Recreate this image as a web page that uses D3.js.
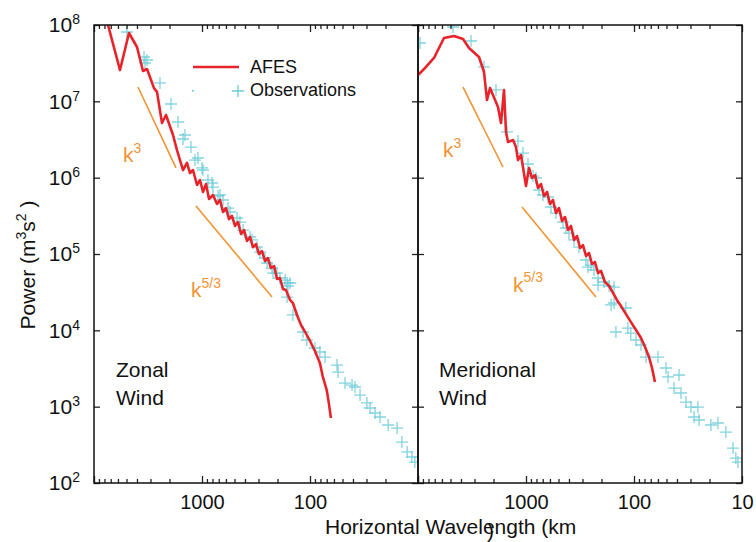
<!DOCTYPE html>
<html>
<head>
<meta charset="utf-8">
<script src="https://cdn.jsdelivr.net/npm/d3@7/dist/d3.min.js"></script>
<style>
body { margin: 0; background: #fff; }
svg { font-family: "Liberation Sans", Arial, sans-serif; }
</style>
</head>
<body>
<svg width="756" height="542"></svg>
<script>
// wavelength (km), power
const zonalAFES = [[8100,1.6e8],[5744,2.57e7],[4742,7.86e7],[3999,5.15e7],[3518,2.50e7],[3230,2.65e7],[2783,1.49e7],[2610,1.33e7],[2347,5.20e6],[2154,6.62e6],[1856,3.62e6],[1704,2.30e6],[1499,1.26e6],[1377,1.56e6],[1292,1.15e6],[1212,1.26e6],[1112,8.01e5],[1043,9.32e5],[979,6.49e5],[918,8.26e5],[861,5.25e5],[791,5.93e5],[726,4.52e5],[681,5.10e5],[639,3.55e5],[600,4.00e5],[562,2.87e5],[528,3.15e5],[495,2.33e5],[464,2.62e5],[435,1.83e5],[408,2.06e5],[383,1.48e5],[359,1.67e5],[337,1.23e5],[316,1.35e5],[297,1.00e5],[278,1.09e5],[261,8.09e4],[245,8.86e4],[230,6.55e4],[215,6.96e4],[202,4.70e4],[190,4.85e4],[178,3.48e4],[167,3.37e4],[153,2.50e4],[144,2.28e4],[132,1.59e4],[121,1.17e4],[111,9.51e3],[100,7.25e3],[90,5.36e3],[81,3.73e3],[76,2.45e3],[70,1.65e3],[67,1.12e3],[64,7.10e2]];

const zonalObs = [[4950,8.10e7],[3443,3.81e7],[3230,3.48e7],[3372,3.18e7],[2448,1.74e7],[1936,9.23e6],[1668,5.36e6],[1437,3.62e6],[1499,3.21e6],[1265,2.52e6],[1161,1.70e6],[1089,1.81e6],[1000,1.34e6],[979,1.26e6],[880,9.32e5],[808,8.51e5],[791,7.54e5],[711,5.75e5],[681,5.93e5],[639,5.10e5],[574,4.00e5],[550,3.55e5],[474,2.96e5],[445,2.62e5],[417,2.06e5],[359,1.67e5],[344,1.53e5],[310,1.23e5],[290,1.06e5],[261,8.86e4],[250,7.62e4],[225,6.55e4],[220,5.63e4],[202,5.63e4],[190,4.85e4],[170,4.56e4],[163,4.17e4],[160,3.81e4],[153,4.17e4],[163,2.73e4],[144,1.59e4],[116,9.51e3],[107,7.47e3],[90,5.87e3],[81,5.20e3],[72.6,4.47e3],[56.2,3.51e3],[55.0,2.84e3],[47.4,2.04e3],[40.8,1.92e3],[38.3,1.81e3],[34.4,1.42e3],[29.7,1.12e3],[27.8,9.60e2],[25.0,8.26e2],[22.5,7.32e2],[18.9,5.75e2],[15.6,5.25e2],[14.1,3.44e2],[12.6,2.55e2],[11.4,2.19e2],[10.7,1.88e2]];

const meridAFES = [[10000,2.21e7],[8431,2.82e7],[7111,3.70e7],[5744,6.75e7],[4642,7.18e7],[3831,6.55e7],[3372,5.00e7],[2724,3.81e7],[2448,2.42e7],[2297,1.04e7],[2154,1.49e7],[2021,1.21e7],[1817,8.43e6],[1704,5.20e6],[1598,1.41e7],[1532,3.97e6],[1468,2.93e6],[1319,3.11e6],[1238,2.52e6],[1186,1.70e6],[1112,1.98e6],[1000,7.78e5],[938,1.34e6],[880,9.90e5],[825,1.08e6],[774,7.32e5],[726,8.26e5],[681,5.75e5],[639,6.49e5],[600,4.52e5],[562,5.10e5],[528,3.44e5],[495,4.00e5],[464,2.70e5],[435,3.05e5],[408,2.06e5],[383,2.33e5],[359,1.53e5],[337,1.72e5],[316,1.20e5],[297,1.31e5],[278,9.41e4],[261,1.03e5],[245,7.39e4],[230,7.86e4],[215,5.63e4],[202,5.99e4],[186,4.30e4],[170,3.81e4],[156,3.08e4],[144,2.50e4],[132,2.08e4],[119,1.64e4],[107,1.29e4],[95.8,1.01e4],[86.1,7.93e3],[79.1,6.05e3],[72.6,4.47e3],[68.1,3.21e3],[64,2.10e3]];

const meridObs = [[9583,5.81e7],[4742,9.41e7],[3230,6.17e7],[2448,2.82e7],[1896,1.41e7],[1499,3.97e6],[1186,3.02e6],[1066,2.10e6],[958,1.51e6],[861,1.05e6],[808,9.90e5],[758,6.89e5],[696,5.93e5],[626,5.58e5],[587,4.13e5],[528,3.44e5],[454,2.62e5],[426,2.19e5],[400,1.88e5],[359,1.53e5],[323,1.23e5],[278,8.34e4],[267,6.75e4],[250,7.17e4],[235,6.17e4],[215,4.85e4],[215,3.92e4],[190,4.30e4],[170,3.81e4],[153,3.69e4],[163,2.15e4],[153,2.28e4],[147,9.51e3],[119,1.96e4],[114,1.07e4],[107,9.22e3],[95.8,7.47e3],[86.1,6.42e3],[77.4,4.47e3],[60.0,4.47e3],[50.5,3.21e3],[48.4,2.45e3],[38.3,2.60e3],[42.6,1.75e3],[36.7,1.51e3],[33.0,1.15e3],[29.7,9.89e2],[25.6,9.89e2],[27.8,7.32e2],[25.0,6.69e2],[19.4,5.75e2],[16.7,6.11e2],[14.1,4.65e2],[12.1,2.87e2],[11.4,2.12e2],[10.9,1.88e2]];

// reference slopes
const zonalK3 = [[3916,1.54e7],[1741,1.34e6]];
const zonalK53 = [[1137,4.26e5],[225,2.74e4]];
const meridK3 = [[3830,1.54e7],[1633,1.38e6]];
const meridK53 = [[1089,4.13e5],[225,2.74e4]];

const xMajor = [10000, 1000, 100, 10];
const xMinor = [9000,8000,7000,6000,5000,4000,3000,2000,900,800,700,600,500,400,300,200,90,80,70,60,50,40,30,20];
const yTicks = [1e2, 1e3, 1e4, 1e5, 1e6, 1e7, 1e8];
const yExp = ["2", "3", "4", "5", "6", "7", "8"];

const red = "#e8242b", cyan = "#6ccbd8", orange = "#f29433";
const plotTop = 25, plotBottom = 483;

const svg = d3.select("svg");
const y = d3.scaleLog().domain([1e2, 1e8]).range([plotBottom, plotTop]);

const panels = [
    { id: "z", x0: 94, x1: 418, afes: zonalAFES, obs: zonalObs, k3: zonalK3, k53: zonalK53,
      xlabels: [1000, 100], name: ["Zonal", "Wind"], nx: 116,
      k3lab: [123, 162, 153], k53lab: [191, 297, 288] },
    { id: "m", x0: 418, x1: 742, afes: meridAFES, obs: meridObs, k3: meridK3, k53: meridK53,
      xlabels: [1000, 100, 10], name: ["Meridional", "Wind"], nx: 439,
      k3lab: [443, 157, 148], k53lab: [513, 292, 282] },
];

const defs = svg.append("defs");

panels.forEach((p) => {
    const x = d3.scaleLog().domain([10000, 10]).range([p.x0, p.x1]);

    defs.append("clipPath").attr("id", "clip-" + p.id)
        .append("rect").attr("x", p.x0).attr("y", plotTop).attr("width", p.x1 - p.x0).attr("height", plotBottom - plotTop);

    const plot = svg.append("g").attr("clip-path", `url(#clip-${p.id})`);

    // slope guides
    [p.k3, p.k53].forEach((seg) => {
        plot.append("path")
            .attr("d", d3.line().x((d) => x(d[0])).y((d) => y(d[1]))(seg))
            .attr("stroke", orange).attr("stroke-width", 1.6).attr("fill", "none");
    });

    // observations
    plot.append("g").selectAll("path").data(p.obs).enter().append("path")
        .attr("d", (d) => `M${x(d[0]) - 6},${y(d[1])}h12M${x(d[0])},${y(d[1]) - 6}v12`)
        .attr("stroke", cyan).attr("stroke-width", 1.3).attr("opacity", 0.85).attr("fill", "none");

    // model
    plot.append("path")
        .attr("d", d3.line().x((d) => x(d[0])).y((d) => y(d[1]))(p.afes))
        .attr("stroke", red).attr("stroke-width", 2.6).attr("fill", "none").attr("stroke-linejoin", "round");

    // x axes
    const strip = (g) => g.select(".domain").remove();
    svg.append("g").attr("transform", `translate(0,${plotBottom})`)
        .call(d3.axisBottom(x).tickValues(xMinor).tickSize(-4).tickFormat("")).call(strip);
    svg.append("g").attr("transform", `translate(0,${plotTop})`)
        .call(d3.axisTop(x).tickValues(xMinor).tickSize(-4).tickFormat("")).call(strip);
    svg.append("g").attr("transform", `translate(0,${plotTop})`)
        .call(d3.axisTop(x).tickValues(xMajor).tickSize(-7).tickFormat("")).call(strip);
    const xb = svg.append("g").attr("transform", `translate(0,${plotBottom})`)
        .call(d3.axisBottom(x).tickValues(xMajor).tickSize(-7).tickPadding(12)
            .tickFormat((d) => (p.xlabels.includes(d) ? String(d) : "")))
        .call(strip);
    xb.selectAll("text").attr("font-size", 20).attr("fill", "#111").attr("font-family", null);

    // y ticks on both sides
    svg.append("g").attr("transform", `translate(${p.x0},0)`)
        .call(d3.axisLeft(y).tickValues(yTicks).tickSize(-6).tickFormat("")).call(strip);
    svg.append("g").attr("transform", `translate(${p.x1},0)`)
        .call(d3.axisRight(y).tickValues(yTicks).tickSize(-6).tickFormat("")).call(strip);

    // frame
    svg.append("rect").attr("x", p.x0).attr("y", plotTop).attr("width", p.x1 - p.x0).attr("height", plotBottom - plotTop)
        .attr("fill", "none").attr("stroke", "#111").attr("stroke-width", 1.5);

    // panel name
    p.name.forEach((t, i) => {
        svg.append("text").attr("x", p.nx).attr("y", 377 + i * 28).attr("font-size", 21).attr("fill", "#111").text(t);
    });

    // slope labels
    [[p.k3lab, "3"], [p.k53lab, "5/3"]].forEach(([pos, sup]) => {
        const t = svg.append("text").attr("x", pos[0]).attr("y", pos[1]).attr("fill", orange).attr("font-size", 21);
        t.append("tspan").text("k");
        t.append("tspan").attr("dy", pos[2] - pos[1]).attr("font-size", 14).text(sup);
    });
});

svg.selectAll(".tick line").attr("stroke", "#222").attr("stroke-width", 1.3);

// y tick labels
const yl = svg.append("g").attr("transform", "translate(94,0)")
    .call(d3.axisLeft(y).tickValues(yTicks).tickSize(0).tickPadding(14).tickFormat(""));
yl.select(".domain").remove();
yl.selectAll("text").each(function (d, i) {
    const t = d3.select(this).attr("font-size", 21).attr("fill", "#111").attr("font-family", null);
    t.append("tspan").text("10");
    t.append("tspan").attr("dy", -8).attr("font-size", 14).text(yExp[i]);
});

// axis titles
const yt = svg.append("text").attr("transform", "translate(35,265) rotate(-90)")
    .attr("text-anchor", "middle").attr("font-size", 21).attr("fill", "#111");
yt.append("tspan").text("Power (m");
yt.append("tspan").attr("dy", -9).attr("font-size", 14).text("3");
yt.append("tspan").attr("dy", 9).text("s");
yt.append("tspan").attr("dy", -9).attr("font-size", 14).text("2");
yt.append("tspan").attr("dy", 9).text(" )");

svg.append("text").attr("x", 325).attr("y", 534).attr("font-size", 21).attr("fill", "#111")
    .text("Horizontal Wavelength (km");
svg.append("text").attr("x", 487).attr("y", 538).attr("font-size", 21).attr("fill", "#111").text(")");

// legend
const lg = svg.append("g");
lg.append("line").attr("x1", 193).attr("x2", 239).attr("y1", 67).attr("y2", 67)
    .attr("stroke", red).attr("stroke-width", 2.6);
lg.append("text").attr("x", 250).attr("y", 73).attr("font-size", 18).attr("fill", "#111").text("AFES");
lg.append("path").attr("d", "M232,91h12M238,85v12").attr("stroke", cyan).attr("stroke-width", 1.3);
lg.append("rect").attr("x", 192).attr("y", 90).attr("width", 2).attr("height", 1.5).attr("fill", cyan);
lg.append("text").attr("x", 250).attr("y", 96).attr("font-size", 18).attr("fill", "#111").text("Observations");
</script>
</body>
</html>
